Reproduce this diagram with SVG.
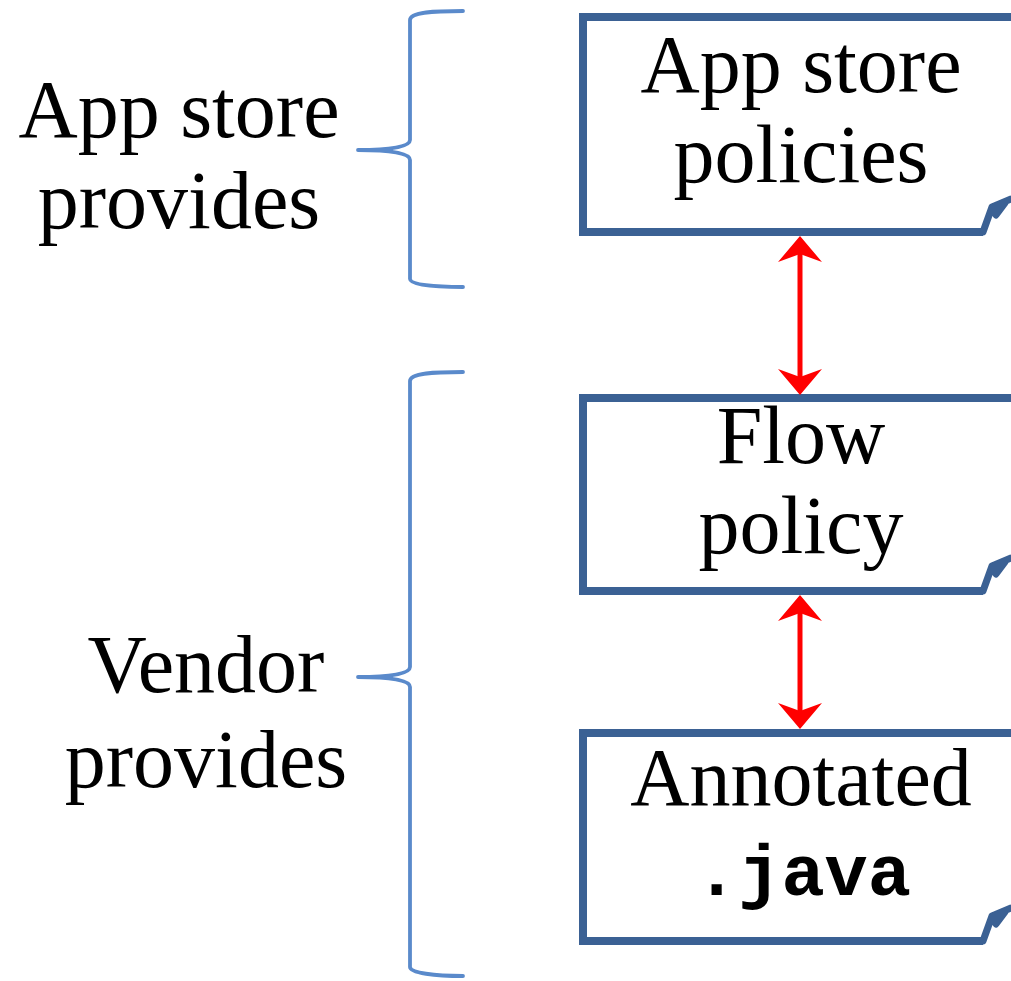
<svg xmlns="http://www.w3.org/2000/svg" width="1011" height="981" viewBox="0 0 1011 981">
  <style>
    .bg { fill: #ffffff; }
    .box { fill: none; stroke: #3B6194; stroke-width: 8; stroke-linejoin: miter; }
    .fold { fill: none; stroke: #3B6194; stroke-width: 7; stroke-linejoin: round; stroke-linecap: round; }
    .brace { fill: none; stroke: #5A8ACB; stroke-width: 3.8; stroke-linecap: round; stroke-linejoin: round; }
    .label { font-family: "Liberation Serif", "Times New Roman", serif; font-size: 82px; fill: #000000; text-anchor: middle; }
    .code { font-family: "Liberation Mono", "Courier New", monospace; font-size: 72px; font-weight: bold; fill: #000000; text-anchor: middle; }
    .link { stroke: #FF0000; stroke-width: 5; fill: none; }
    .head { fill: #FF0000; }
  </style>
  <defs>
    <!-- stealth-style arrow head, tip at origin pointing up -->
    <path id="tipUp" class="head" d="M0 0 L22 26 L0 18 L-22 26 Z"/>
    <!-- folded lower-right corner of a document shape, anchored at the end of the bottom edge -->
    <path id="corner" class="fold" d="M0 0 L9 -25 L28 -33 M9 -25 L13 -17 L22 -29 Z"/>
  </defs>

  <rect class="bg" x="0" y="0" width="1011" height="981"/>

  <!-- left-hand grouping braces and their captions -->
  <g id="appstore-group">
    <path class="brace" d="M463 11 C435 11 410 12 410 20 L410 140 C410 147 390 150 358 150 C390 150 410 153 410 160 L410 279 C410 285 435 287 463 287"/>
    <text class="label" x="179" y="137">App store</text>
    <text class="label" x="179" y="228">provides</text>
  </g>

  <g id="vendor-group">
    <path class="brace" d="M463 372 C435 372 410 373 410 381 L410 667 C410 674 390 677 358 677 C390 677 410 680 410 687 L410 967 C410 973 435 976 463 976"/>
    <text class="label" x="206" y="692">Vendor</text>
    <text class="label" x="206" y="787">provides</text>
  </g>

  <!-- document nodes (folded corner at lower right) -->
  <g id="node-appstore-policies">
    <path class="box" d="M1015 17 L583 17 L583 232 L983 232"/>
    <use href="#corner" transform="translate(983 232)"/>
    <text class="label" x="801" y="92">App store</text>
    <text class="label" x="801" y="182">policies</text>
  </g>

  <g id="node-flow-policy">
    <path class="box" d="M1015 398 L583 398 L583 591 L983 591"/>
    <use href="#corner" transform="translate(983 591)"/>
    <text class="label" x="801" y="463">Flow</text>
    <text class="label" x="801" y="553">policy</text>
  </g>

  <g id="node-annotated-java">
    <path class="box" d="M1015 733 L583 733 L583 941 L983 941"/>
    <use href="#corner" transform="translate(983 941)"/>
    <text class="label" x="801" y="805">Annotated</text>
    <text class="code" x="803" y="895">.java</text>
  </g>

  <!-- two-way connectors between the nodes -->
  <g id="connectors">
    <line class="link" x1="800" y1="250" x2="800" y2="382"/>
    <use href="#tipUp" transform="translate(800 236)"/>
    <use href="#tipUp" transform="translate(800 395) rotate(180)"/>

    <line class="link" x1="800" y1="609" x2="800" y2="715"/>
    <use href="#tipUp" transform="translate(800 595)"/>
    <use href="#tipUp" transform="translate(800 729) rotate(180)"/>
  </g>
</svg>
